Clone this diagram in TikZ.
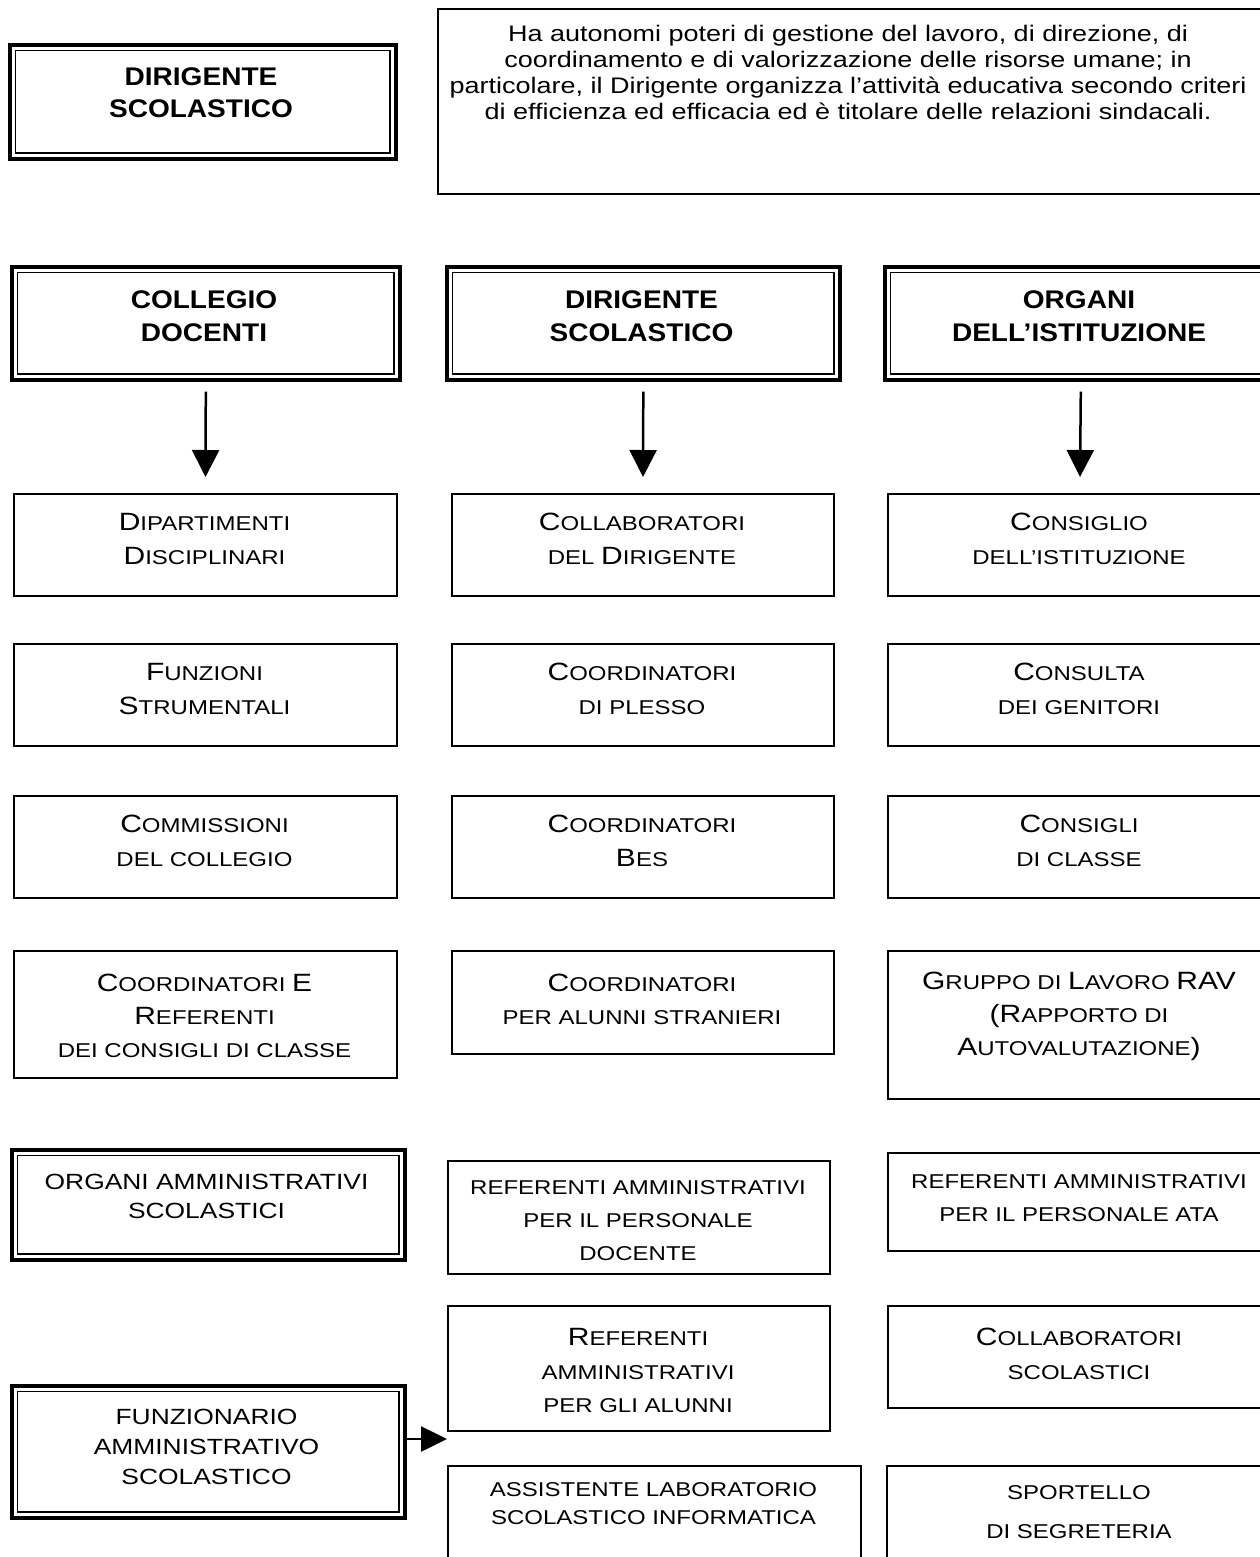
\documentclass[tikz,border=0pt]{standalone}
\usepackage{fontspec}
\setmainfont[FakeStretch=1.2]{Liberation Sans}
\newfontfamily\hb[FakeStretch=1.1]{Liberation Sans}
\usetikzlibrary{arrows.meta}
\newcommand\K[1]{{\fontsize{25}{30}\selectfont #1}}
\newcommand\innerframe[1]{\draw[line width=1.8pt] ([shift={(7.5pt,-7.5pt)}]#1.north west) rectangle ([shift={(-7.5pt,7.5pt)}]#1.south east);}
\tikzset{
  sbox/.style={draw, line width=2pt, inner sep=0pt, anchor=north west},
  dbox/.style={draw, line width=3.6pt, inner sep=0pt, anchor=north west},
  txt/.style={inner sep=0pt, align=center, font=\fontsize{20}{#1}\selectfont},
  ntxt/.style={inner sep=0pt, align=center, font=\fontsize{22}{#1}\selectfont},
  btxt/.style={inner sep=0pt, align=center, font=\hb\bfseries\fontsize{25.5}{#1}\selectfont},
  dtxt/.style={inner sep=0pt, align=center, font=\fontsize{22.5}{#1}\selectfont},
  arr/.style={line width=2.5pt, -{Triangle[length=27pt,width=27pt]}},
  arrh/.style={line width=2.5pt, -{Triangle[length=26pt,width=25pt]}}
}
\begin{document}
\begin{tikzpicture}[x=1pt,y=-1pt]
\useasboundingbox[fill=white] (0,0) rectangle (1259,1557);
% top
\node[dbox, minimum width=386pt, minimum height=114pt] (dsTop) at (8,43) {};
\innerframe{dsTop}
\node[btxt=32pt] (tdsTop) at (201,93) {DIRIGENTE\\SCOLASTICO};
\node[sbox, minimum width=830pt, minimum height=185pt] (desc) at (437,8) {};
\node[dtxt=25.7pt] (tdesc) at (848,72.5) {Ha autonomi poteri di gestione del lavoro, di direzione, di\\coordinamento e di valorizzazione delle risorse umane; in\\particolare, il Dirigente organizza l’attività educativa secondo criteri\\di efficienza ed efficacia ed è titolare delle relazioni sindacali.};
% headers
\node[dbox, minimum width=388pt, minimum height=113pt] (hL) at (10,265) {};
\innerframe{hL}
\node[btxt=33pt] (thL) at (204,316.5) {COLLEGIO\\DOCENTI};
\node[dbox, minimum width=393pt, minimum height=113pt] (hM) at (445,265) {};
\innerframe{hM}
\node[btxt=33pt] (thM) at (641.5,316.5) {DIRIGENTE\\SCOLASTICO};
\node[dbox, minimum width=392pt, minimum height=113pt] (hR) at (883,265) {};
\innerframe{hR}
\node[btxt=33pt] (thR) at (1079,316.5) {ORGANI\\DELL’ISTITUZIONE};
% row 1
\node[sbox, minimum width=383pt, minimum height=102pt] (bL1) at (13,493) {};
\node[txt=34pt] (tL1) at (204.5,539) {\K{D}IPARTIMENTI\\\K{D}ISCIPLINARI};
\node[sbox, minimum width=382pt, minimum height=102pt] (bM1) at (451,493) {};
\node[txt=34pt] (tM1) at (642,539) {\K{C}OLLABORATORI\\DEL \K{D}IRIGENTE};
\node[sbox, minimum width=384pt, minimum height=102pt] (bR1) at (887,493) {};
\node[txt=34pt] (tR1) at (1079,539) {\K{C}ONSIGLIO\\DELL’ISTITUZIONE};
% arrows
\draw[arr] ([yshift=-10pt]hL.south) -- ([yshift=16pt]bL1.north);
\draw[arr] ([yshift=-10pt]hM.south) -- ([yshift=16pt]bM1.north);
\draw[arr] ([yshift=-10pt]hR.south) -- ([yshift=16pt]bR1.north);
% row 2
\node[sbox, minimum width=383pt, minimum height=102pt] (bL2) at (13,643) {};
\node[txt=34pt] (tL2) at (204.5,689) {\K{F}UNZIONI\\\K{S}TRUMENTALI};
\node[sbox, minimum width=382pt, minimum height=102pt] (bM2) at (451,643) {};
\node[txt=34pt] (tM2) at (642,689) {\K{C}OORDINATORI\\DI PLESSO};
\node[sbox, minimum width=384pt, minimum height=102pt] (bR2) at (887,643) {};
\node[txt=34pt] (tR2) at (1079,689) {\K{C}ONSULTA\\DEI GENITORI};
% row 3
\node[sbox, minimum width=383pt, minimum height=102pt] (bL3) at (13,795) {};
\node[txt=34pt] (tL3) at (204.5,841) {\K{C}OMMISSIONI\\DEL COLLEGIO};
\node[sbox, minimum width=382pt, minimum height=102pt] (bM3) at (451,795) {};
\node[txt=34pt] (tM3) at (642,841) {\K{C}OORDINATORI\\\K{B}ES};
\node[sbox, minimum width=384pt, minimum height=102pt] (bR3) at (887,795) {};
\node[txt=34pt] (tR3) at (1079,841) {\K{C}ONSIGLI\\DI CLASSE};
% row 4
\node[sbox, minimum width=383pt, minimum height=127pt] (bL4) at (13,950) {};
\node[txt=33pt] (tL4) at (204.5,1016) {\K{C}OORDINATORI \K{E}\\\K{R}EFERENTI\\DEI CONSIGLI DI CLASSE};
\node[sbox, minimum width=382pt, minimum height=103pt] (bM4) at (451,950) {};
\node[txt=33pt] (tM4) at (642,999.5) {\K{C}OORDINATORI\\PER ALUNNI STRANIERI};
\node[sbox, minimum width=384pt, minimum height=148pt] (bR4) at (887,950) {};
\node[txt=33pt] (tR4) at (1079,1016) {\K{G}RUPPO DI \K{L}AVORO \K{RAV}\\\K{(R}APPORTO DI\\\K{A}UTOVALUTAZIONE\K{)}};
% row 5
\node[dbox, minimum width=393pt, minimum height=110pt] (bL5) at (10,1148) {};
\innerframe{bL5}
\node[ntxt=29pt] (tL5) at (206.5,1196.5) {ORGANI AMMINISTRATIVI\\SCOLASTICI};
\node[sbox, minimum width=382pt, minimum height=113pt] (bM5) at (447,1160) {};
\node[txt=33pt] (tM5) at (638,1221) {REFERENTI AMMINISTRATIVI\\PER IL PERSONALE\\DOCENTE};
\node[sbox, minimum width=384pt, minimum height=98pt] (bR5) at (887,1152) {};
\node[txt=33pt] (tR5) at (1079,1198.5) {REFERENTI AMMINISTRATIVI\\PER IL PERSONALE ATA};
% row 6
\node[sbox, minimum width=382pt, minimum height=125pt] (bM6) at (447,1305) {};
\node[txt=33.5pt] (tM6) at (638,1370.5) {\K{R}EFERENTI\\AMMINISTRATIVI\\PER GLI ALUNNI};
\node[sbox, minimum width=384pt, minimum height=102pt] (bR6) at (887,1305) {};
\node[txt=34pt] (tR6) at (1079,1354) {\K{C}OLLABORATORI\\SCOLASTICI};
\node[dbox, minimum width=393pt, minimum height=132pt] (bL6) at (10,1384) {};
\innerframe{bL6}
\node[ntxt=30pt] (tL6) at (206.5,1447) {FUNZIONARIO\\AMMINISTRATIVO\\SCOLASTICO};
% row 7
\node[sbox, minimum width=413pt, minimum height=150pt] (bM7) at (447,1465) {};
\node[txt=28pt] (tM7) at (653.5,1504) {ASSISTENTE LABORATORIO\\SCOLASTICO INFORMATICA};
\node[sbox, minimum width=385pt, minimum height=150pt] (bR7) at (886,1465) {};
\node[txt=39pt] (tR7) at (1079,1512.5) {SPORTELLO\\DI SEGRETERIA};
% side arrow
\coordinate (aS) at (407,1439);
\draw[arrh] (aS) -- (aS -| bM6.west);
\end{tikzpicture}
\end{document}
